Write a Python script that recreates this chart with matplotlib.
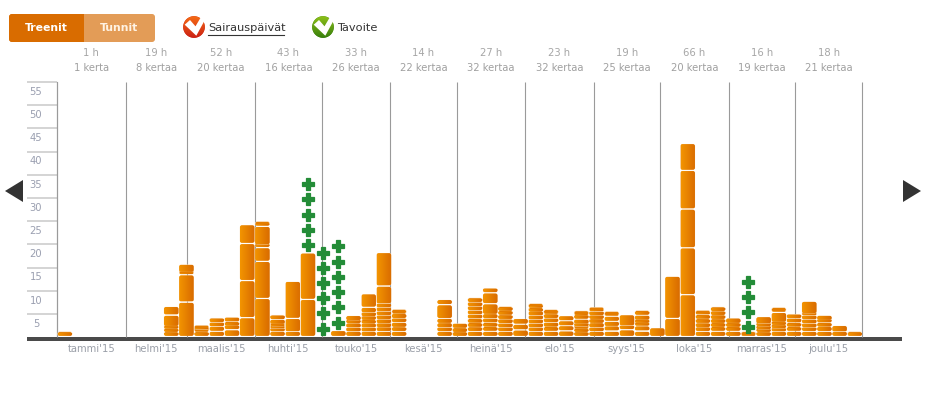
import numpy as np
import matplotlib
matplotlib.use("Agg")
import matplotlib.pyplot as plt
from matplotlib.patches import FancyBboxPatch, Circle, Polygon, Rectangle

plt.rcParams['font.family'] = ['DejaVu Sans']

W, H = 931, 395

# each week: sessions stacked bottom to top
weeks = {
    0: [0.9],
    7: [0.85, 0.7, 0.6, 2.45, 1.9],
    8: [7.4, 5.9, 0.5, 1.8],
    9: [0.9, 0.5, 0.5],
    10: [1.1, 0.95, 0.9, 0.75],
    11: [1.45, 0.75, 0.9, 0.8],
    12: [4.05, 8.0, 8.0, 4.05],
    13: [8.2, 8.0, 2.95, 0.6, 4.0, 0.55],
    14: [0.95, 0.65, 0.5, 0.5, 1.0, 0.9],
    15: [1.0, 2.9, 8.0],
    16: [8.0, 10.0],
    18: [1.3],
    19: [0.95, 0.85, 0.95, 0.65, 1.1],
    20: [0.95, 0.85, 0.85, 0.8, 0.8, 0.85, 1.2, 2.9],
    21: [1.05, 0.85, 0.85, 0.85, 0.85, 0.85, 0.85, 0.85, 3.85, 7.25],
    22: [1.05, 0.9, 1.0, 0.9, 0.95, 0.3],
    25: [1.0, 0.85, 0.95, 1.05, 3.0, 0.95],
    26: [0.85, 0.9, 0.95],
    27: [1.05, 0.9, 0.9, 0.9, 0.9, 0.9, 0.85, 0.9, 0.9],
    28: [1.1, 0.9, 0.9, 0.9, 0.95, 2.3, 2.35, 0.9],
    29: [1.0, 0.85, 0.9, 0.9, 0.9, 0.85, 0.85],
    30: [1.4, 1.25, 1.25],
    31: [1.0, 0.85, 0.85, 0.85, 0.85, 0.8, 0.85, 0.65],
    32: [1.1, 0.9, 0.95, 0.9, 0.9, 0.25],
    33: [1.2, 1.05, 1.1, 1.15],
    34: [0.85, 0.7, 0.5, 0.6, 1.05, 0.8, 0.4],
    35: [1.0, 0.85, 0.95, 0.85, 0.8, 0.85, 0.5],
    36: [1.15, 1.0, 1.1, 1.1, 0.35],
    37: [1.45, 0.8, 2.45],
    38: [1.15, 1.05, 0.6, 0.7, 1.05, 0.75],
    39: [1.9],
    40: [3.9, 9.1],
    41: [9.0, 10.1, 8.35, 8.35, 5.8],
    42: [1.05, 0.85, 0.9, 0.9, 0.9, 0.4],
    43: [1.1, 0.85, 0.85, 0.85, 0.85, 0.85, 0.85],
    44: [1.1, 0.85, 0.85, 1.2],
    45: [0.3],
    46: [0.85, 0.6, 0.65, 0.6, 1.6],
    47: [0.95, 0.7, 0.7, 0.7, 2.15, 0.4],
    48: [1.1, 0.9, 0.9, 0.9, 0.9],
    49: [1.05, 0.8, 0.85, 0.85, 0.85, 0.5, 2.7],
    50: [1.05, 0.95, 0.9, 0.55, 1.05],
    51: [0.95, 1.45],
    52: [0.9],
}
# sick day markers per week
sick_days = {16: 5, 17: 6, 18: 6, 45: 4}

month_names = ["tammi'15", "helmi'15", "maalis'15", "huhti'15", "touko'15", "kesä'15",
               "heinä'15", "elo'15", "syys'15", "loka'15", "marras'15", "joulu'15"]
month_hours = ["1 h", "19 h", "52 h", "43 h", "33 h", "14 h", "27 h", "23 h", "19 h", "66 h", "16 h", "18 h"]
month_times = ["1 kerta", "8 kertaa", "20 kertaa", "16 kertaa", "26 kertaa", "22 kertaa",
               "32 kertaa", "32 kertaa", "25 kertaa", "20 kertaa", "19 kertaa", "21 kertaa"]
month_edges = [0, 4.49, 8.54, 13.0, 17.42, 21.9, 26.32, 30.8, 35.3, 39.67, 44.2, 48.55, 53]
y_ticks = [5, 10, 15, 20, 25, 30, 35, 40, 45, 50, 55]

fig = plt.figure(figsize=(W / 100, H / 100), dpi=100)

# overlay in pixel coords for the page furniture
page = fig.add_axes([0, 0, 1, 1])
page.set_xlim(0, W)
page.set_ylim(H, 0)
page.axis("off")

left, right, top, zero = 57.3, 862.4, 82.0, 337.2
ax = fig.add_axes([left / W, 1 - zero / H, (right - left) / W, (zero - top) / H])
ax.set_xlim(0, 53)
ax.set_ylim(0, 55)
ax.axis("off")
ax.patch.set_alpha(0)

grad = np.linspace(0, 1, 16).reshape(1, -1, 1)
c0 = np.array([0.95, 0.58, 0.0])
c1 = np.array([0.85, 0.42, 0.0])
grad_img = c0 + (c1 - c0) * grad

x_px = (right - left) / 53
y_px = (zero - top) / 55
aspect = (1 / y_px) / (1 / x_px)
gap = 0.3
bar_w = 14.4 / x_px

# month grid
for e in month_edges:
    ax.plot([e, e], [0, 55], color="#9a9a9a", lw=0.8, zorder=1, solid_capstyle="butt", clip_on=False)

for wk, segs in weeks.items():
    bottom = 0.0
    x0 = wk + (1 - bar_w) / 2
    for s in segs:
        h = max(s - gap, 0.12)
        r = min(2.0 / x_px, h * aspect / 2 * 0.7) if h * y_px < 5 else 2.0 / x_px
        r = min(r, 0.13)
        pad = r
        box = FancyBboxPatch((x0 + pad, bottom + gap + pad * aspect), bar_w - 2 * pad,
                             max(h - 2 * pad * aspect, 0.001),
                             boxstyle="round,pad=%f,rounding_size=%f" % (pad, r),
                             mutation_aspect=aspect, fc="#e47d00", ec="#fde8cc", lw=0.3, zorder=3)
        ax.add_patch(box)
        im = ax.imshow(grad_img, extent=(x0, x0 + bar_w, bottom + gap, bottom + gap + h),
                       aspect="auto", zorder=3.5, interpolation="bilinear")
        im.set_clip_path(box)
        bottom += s

for wk, n in sick_days.items():
    base = sum(weeks.get(wk, [0.0]))
    ys = [base + 1.85 + k * 3.28 for k in range(n)]
    ax.plot([wk + 0.5] * n, ys, ls="none", marker="P", ms=8, mfc="#238c37", mec="#238c37", mew=0.9, zorder=4, clip_on=False)

ax.set_xlim(0, 53)
ax.set_ylim(0, 55)

# y axis: ticks run left from the axis, label sits under its tick
for t in y_ticks:
    yy = zero - t * y_px
    page.plot([27, left], [yy, yy], color="#c9c9c9", lw=1.1, solid_capstyle="butt")
    page.text(36, yy + 9.7, str(t), ha="center", va="center", fontsize=7.2, color="#9a9fb0")
page.plot([left, left], [top, zero], color="#9a9a9a", lw=0.8)

# base line
page.add_patch(Rectangle((27, 337), 875, 3.8, fc="#4a4a4a", ec="none", zorder=5))

for i in range(12):
    cx = left + (month_edges[i] + month_edges[i + 1]) / 2 * x_px
    page.text(cx, 348.5, month_names[i], ha="center", va="center", fontsize=7.2, color="#9a9fa8")
    page.text(cx, 52.5, month_hours[i], ha="center", va="center", fontsize=7.2, color="#a6a6a6")
    page.text(cx, 68, month_times[i], ha="center", va="center", fontsize=7.2, color="#a0a0a0")

# toggle buttons
page.add_patch(FancyBboxPatch((11, 16), 142, 24, boxstyle="round,pad=2,rounding_size=3", fc="#e39c57", ec="none"))
page.add_patch(FancyBboxPatch((11, 16), 71, 24, boxstyle="round,pad=2,rounding_size=3", fc="#d96c00", ec="none"))
page.add_patch(Rectangle((70, 14), 14, 28, fc="#d96c00", ec="none"))
page.text(46.5, 28, "Treenit", ha="center", va="center", fontsize=7.8, color="white", fontweight="bold")
page.text(119.5, 28, "Tunnit", ha="center", va="center", fontsize=7.8, color="#fff3e4", fontweight="bold")


def icon(cx, cy, top_c, bot_c):
    circ = Circle((cx, cy), 10.8, fc=bot_c, ec="none")
    page.add_patch(circ)
    g = np.linspace(0, 1, 24).reshape(-1, 1, 1)
    img = np.array(top_c) + (np.array(bot_c) - np.array(top_c)) * g
    im = page.imshow(img, extent=(cx - 11, cx + 11, cy + 11, cy - 11), aspect="auto", zorder=2)
    im.set_clip_path(circ)
    page.add_patch(Polygon([(cx - 9.3, cy - 2.3), (cx - 4, cy - 7), (cx + 1.5, cy - 0.7), (cx + 7, cy - 10),
                            (cx + 10.7, cy - 6.7), (cx + 2.3, cy + 8.7)],
                           fc="white", ec="none", zorder=3))


icon(194, 27, (0.96, 0.42, 0.08), (0.80, 0.13, 0.08))
icon(323, 27, (0.55, 0.75, 0.10), (0.22, 0.50, 0.05))
page.text(208, 28, "Sairauspäivät", ha="left", va="center", fontsize=8.2, color="#333333")
page.plot([208, 284], [34.5, 34.5], color="#333333", lw=0.8)
page.text(337, 28, "Tavoite", ha="left", va="center", fontsize=8.2, color="#333333")

# nav arrows
page.add_patch(Polygon([(5, 191), (23, 180), (23, 202)], fc="#333333", ec="none"))
page.add_patch(Polygon([(921, 191), (903, 180), (903, 202)], fc="#333333", ec="none"))

page.set_xlim(0, W)
page.set_ylim(H, 0)

fig.savefig("out.png", dpi=100)
